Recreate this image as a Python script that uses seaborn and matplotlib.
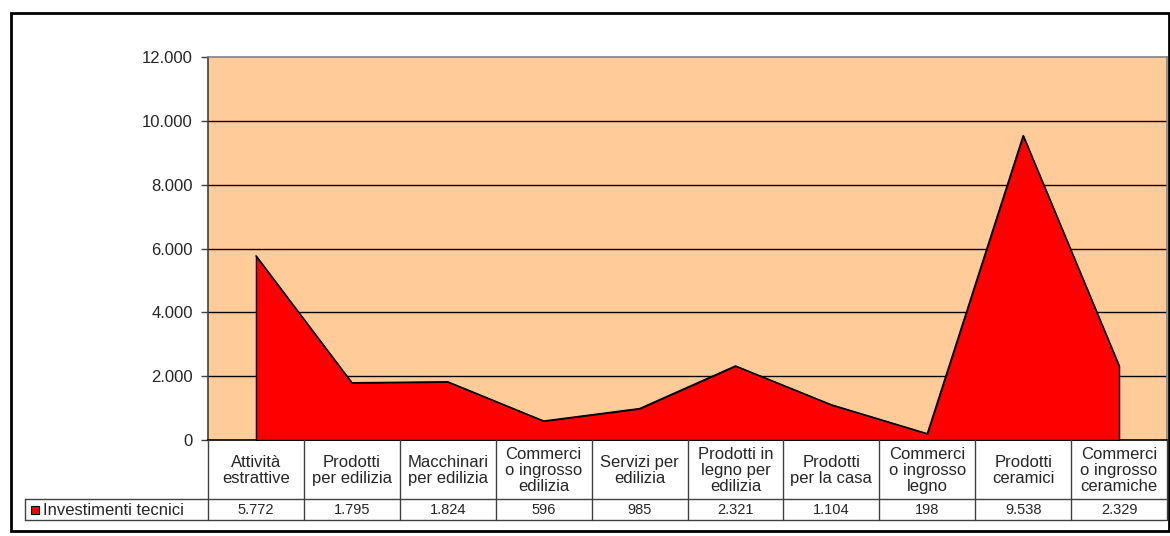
import matplotlib
matplotlib.use("Agg")
import matplotlib.pyplot as plt
import matplotlib.transforms as mtransforms
from matplotlib.patches import Rectangle
from matplotlib.lines import Line2D
import numpy as np
import pandas as pd
import seaborn as sns

# data
categories = ["Attività\nestrattive", "Prodotti\nper edilizia", "Macchinari\nper edilizia",
              "Commerci\no ingrosso\nedilizia", "Servizi per\nedilizia",
              "Prodotti in\nlegno per\nedilizia", "Prodotti\nper la casa",
              "Commerci\no ingrosso\nlegno", "Prodotti\nceramici",
              "Commerci\no ingrosso\nceramiche"]
values = [5772, 1795, 1824, 596, 985, 2321, 1104, 198, 9538, 2329]
series_name = "Investimenti tecnici"
y_ticks = [0, 2000, 4000, 6000, 8000, 10000, 12000]


def it_fmt(v):
    return f"{int(v):,}".replace(",", ".")


df = pd.DataFrame({"pos": np.arange(len(categories)), "value": values})

sns.set_style("white")
plt.rcParams['font.family'] = ['Liberation Sans', 'DejaVu Sans']

W, H = 1170, 536
fig = plt.figure(figsize=(W / 100, H / 100), dpi=100)


def fx(px):
    return px / W


def fy(py):
    return 1 - py / H


left, right, top, bottom = 208, 1167, 57, 440
ax = fig.add_axes([fx(left), fy(bottom), fx(right - left), fy(top) - fy(bottom)])
ax.set_facecolor("#FFCC99")

# area
ax.fill_between(df["pos"], 0, df["value"], facecolor="#FF0000", edgecolor="black",
                linewidth=1, zorder=3)
sns.lineplot(data=df, x="pos", y="value", color="black", linewidth=1, ax=ax, zorder=4)

ax.set_xlim(-0.5, len(categories) - 0.5)
ax.set_ylim(0, 12000)
ax.set_yticks(y_ticks)
ax.set_yticklabels([it_fmt(t) for t in y_ticks], fontsize=12)
ax.set_xticks([])
ax.set_xlabel("")
ax.set_ylabel("")
for t in y_ticks[1:-1]:
    ax.axhline(t, color="black", linewidth=1, zorder=1)
ax.tick_params(axis="y", direction="out", length=5, width=1, color="#404040",
               left=True, pad=6)
ax.spines["top"].set_color("#808080")
ax.spines["right"].set_color("#808080")
ax.spines["left"].set_color("#404040")
ax.spines["bottom"].set_color("black")
for s in ax.spines.values():
    s.set_linewidth(1.2)

# data table below the axis
trans = mtransforms.blended_transform_factory(ax.transData, fig.transFigure)
line_col = "#404040"
row1_bot, row2_bot = 499, 520
n = len(categories)
for i in range(n + 1):
    fig.add_artist(Line2D([i - 0.5, i - 0.5], [fy(bottom), fy(row2_bot)], transform=trans,
                          color=line_col, linewidth=1))
for yy in (row1_bot, row2_bot):
    fig.add_artist(Line2D([fx(25), fx(right - 1)], [fy(yy), fy(yy)],
                          transform=fig.transFigure, color=line_col, linewidth=1))
fig.add_artist(Line2D([fx(25), fx(25)], [fy(row1_bot), fy(row2_bot)],
                      transform=fig.transFigure, color=line_col, linewidth=1))

for i, (cat, v) in enumerate(zip(categories, values)):
    fig.text(i, fy((bottom + row1_bot) / 2 + 1), cat, transform=trans, ha="center",
             va="center", fontsize=12, linespacing=1.05)
    fig.text(i, fy((row1_bot + row2_bot) / 2 + 1), it_fmt(v), transform=trans,
             ha="center", va="center", fontsize=10.5)

fig.add_artist(Rectangle((fx(31), fy(514)), fx(8), fy(506) - fy(514),
                         transform=fig.transFigure, facecolor="#FF0000",
                         edgecolor="black", linewidth=0.8))
fig.text(fx(43), fy((row1_bot + row2_bot) / 2 + 1), series_name, ha="left",
         va="center", fontsize=12)

# outer frame
fig.add_artist(Rectangle((fx(11), fy(531)), fx(1169 - 11), fy(13) - fy(531),
                         transform=fig.transFigure, fill=False, edgecolor="black",
                         linewidth=2))

fig.savefig("out.png", dpi=100)
